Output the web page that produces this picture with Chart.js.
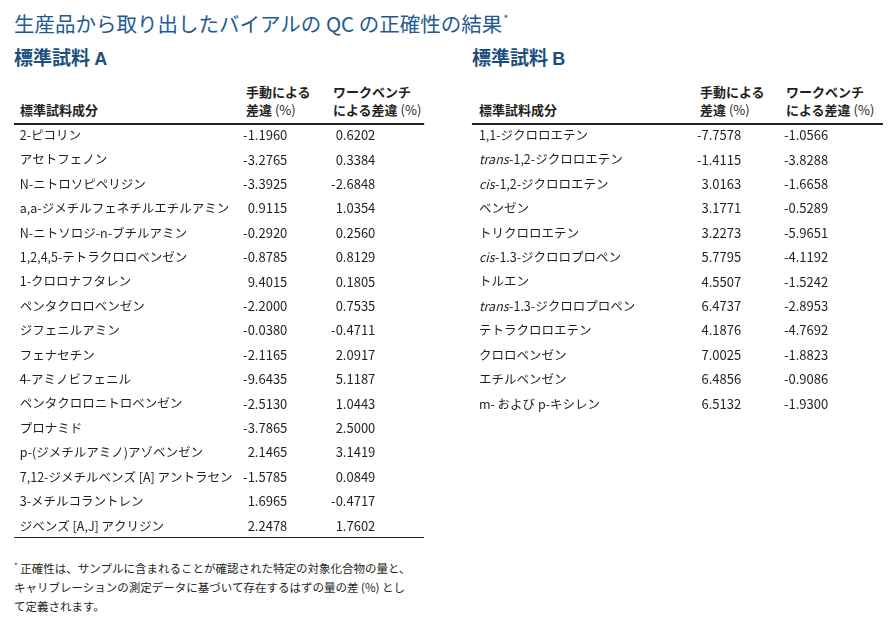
<!DOCTYPE html>
<html lang="ja">
<head>
<meta charset="utf-8">
<script src="https://cdn.jsdelivr.net/npm/chart.js@4.4.0/dist/chart.umd.min.js"></script>
<style>
body { margin: 0; background: #fff; }
#page { position: relative; width: 893px; height: 622px; overflow: hidden;
  font-family: "Liberation Sans Narrow", "Noto Sans CJK JP", sans-serif; color: #231f20; }
.abs { position: absolute; white-space: nowrap; }
.title { left: 14px; top: 4px; font-family: "Noto Sans CJK JP", sans-serif; font-size: 20.5px; line-height: 28px; color: #1f5a93; }
.title sup { font-size: 11px; vertical-align: 9px; margin-left: 1px; }
.heading { top: 44px; font-family: "Noto Sans CJK JP", sans-serif; font-weight: bold; font-size: 19px; line-height: 26px; color: #1a4f80; }
.heading b { font-family: "Liberation Sans", sans-serif; font-size: 18px; }
.head { font-size: 13px; font-weight: bold; line-height: 18px; }
.head span { font-weight: normal; }
.note { left: 14px; top: 556px; font-family: "Noto Sans CJK JP", sans-serif; font-size: 11.5px; line-height: 19px; }
.note sup { font-size: 8px; vertical-align: 4px; }
canvas { position: absolute; }
</style>
</head>
<body>
<div id="page">
  <div class="abs title">生産品から取り出したバイアルの QC の正確性の結果<sup>*</sup></div>

  <div class="abs heading" style="left:14px">標準試料 <b>A</b></div>
  <div class="abs heading" style="left:472px">標準試料 <b>B</b></div>

  <div class="abs head" style="left:20px;top:101px">標準試料成分</div>
  <div class="abs head" style="left:246px;top:83px">手動による<br>差違 <span>(%)</span></div>
  <div class="abs head" style="left:333px;top:83px">ワークベンチ<br>による差違 <span>(%)</span></div>

  <div class="abs head" style="left:479px;top:101px">標準試料成分</div>
  <div class="abs head" style="left:700px;top:83px">手動による<br>差違 <span>(%)</span></div>
  <div class="abs head" style="left:786px;top:83px">ワークベンチ<br>による差違 <span>(%)</span></div>

  <canvas id="table-a" width="440" height="418" style="left:0;top:122px"></canvas>
  <canvas id="table-b" width="435" height="296" style="left:458px;top:122px"></canvas>

  <div class="abs note"><sup>*</sup> 正確性は、サンプルに含まれることが確認された特定の対象化合物の量と、<br>キャリブレーションの測定データに基づいて存在するはずの量の差 (%) とし<br>て定義されます。</div>
</div>

<script>
// DATEN
const componentsA = [
    '2-ピコリン', 'アセトフェノン', 'N-ニトロソピペリジン', 'a,a-ジメチルフェネチルエチルアミン',
    'N-ニトソロジ-n-ブチルアミン', '1,2,4,5-テトラクロロベンゼン', '1-クロロナフタレン',
    'ペンタクロロベンゼン', 'ジフェニルアミン', 'フェナセチン', '4-アミノビフェニル',
    'ペンタクロロニトロベンゼン', 'プロナミド', 'p-(ジメチルアミノ)アゾベンゼン',
    '7,12-ジメチルベンズ [A] アントラセン', '3-メチルコラントレン', 'ジベンズ [A,J] アクリジン'
];
const manualA = [-1.1960, -3.2765, -3.3925, 0.9115, -0.2920, -0.8785, 9.4015, -2.2000, -0.0380,
    -2.1165, -9.6435, -2.5130, -3.7865, 2.1465, -1.5785, 1.6965, 2.2478];
const workbenchA = [0.6202, 0.3384, -2.6848, 1.0354, 0.2560, 0.8129, 0.1805, 0.7535, -0.4711,
    2.0917, 5.1187, 1.0443, 2.5000, 3.1419, 0.0849, -0.4717, 1.7602];

const componentsB = [
    '1,1-ジクロロエテン', 'trans-1,2-ジクロロエテン', 'cis-1,2-ジクロロエテン', 'ベンゼン',
    'トリクロロエテン', 'cis-1.3-ジクロロプロペン', 'トルエン', 'trans-1.3-ジクロロプロペン',
    'テトラクロロエテン', 'クロロベンゼン', 'エチルベンゼン', 'm- および p-キシレン'
];
const manualB = [-7.7578, -1.4115, 3.0163, 3.1771, 3.2273, 5.7795, 4.5507, 6.4737, 4.1876,
    7.0025, 6.4856, 6.5132];
const workbenchB = [-1.0566, -3.8288, -1.6658, -0.5289, -5.9651, -4.1192, -1.5242, -2.8953,
    -4.7692, -1.8823, -0.9086, -1.9300];

const textColor = '#231f20';
const labelFont = '12.5px "Liberation Sans Narrow", "Noto Sans CJK JP", sans-serif';
const italicFont = 'italic 12.5px "Liberation Sans Narrow", "Noto Sans CJK JP", sans-serif';
const numberFont = '13px "Liberation Sans Narrow", "Noto Sans CJK JP", sans-serif';

// ZEICHNET DIE TABELLE (Namen, Werte, Linien)
const tableText = {
    id: 'tableText',
    afterDatasetsDraw(chart, args, opts) {
        const ctx = chart.ctx;
        const xs = chart.scales.x;
        const ys = chart.scales.y;
        const area = chart.chartArea;
        ctx.save();
        ctx.strokeStyle = '#231f20';
        // Linie unter dem Kopf
        ctx.lineWidth = 2;
        ctx.beginPath();
        ctx.moveTo(xs.getPixelForValue(opts.ruleFrom), area.top + 1);
        ctx.lineTo(xs.getPixelForValue(opts.ruleTo), area.top + 1);
        ctx.stroke();
        if (opts.bottomRule) {
            ctx.lineWidth = 1;
            ctx.beginPath();
            ctx.moveTo(xs.getPixelForValue(opts.ruleFrom), area.bottom - 0.5);
            ctx.lineTo(xs.getPixelForValue(opts.ruleTo), area.bottom - 0.5);
            ctx.stroke();
        }
        ctx.fillStyle = textColor;
        ctx.textBaseline = 'middle';
        // Namen der Komponenten
        ctx.textAlign = 'left';
        opts.names.forEach(function (name, i) {
            let px = xs.getPixelForValue(opts.labelX);
            const py = ys.getPixelForValue(i);
            const m = name.match(/^(cis|trans)(-.*)$/);
            if (m) {
                ctx.font = italicFont;
                ctx.fillText(m[1], px, py);
                px += ctx.measureText(m[1]).width + 0.5;
                name = m[2];
            }
            ctx.font = labelFont;
            ctx.fillText(name, px, py);
        });
        // Werte
        ctx.font = numberFont;
        ctx.textAlign = 'right';
        chart.data.datasets.forEach(function (ds, d) {
            const meta = chart.getDatasetMeta(d);
            meta.data.forEach(function (el, i) {
                ctx.fillText(ds.values[i].toFixed(4), el.x, el.y);
            });
        });
        ctx.restore();
    }
};

function makeTable(canvasId, names, columns, colX, labelX, ruleTo, bottomRule) {
    new Chart(document.getElementById(canvasId), {
        type: 'scatter',
        data: {
            datasets: columns.map(function (values, c) {
                return {
                    values: values,
                    data: values.map(function (v, i) { return { x: colX[c], y: i }; }),
                    pointRadius: 0,
                    pointHoverRadius: 0
                };
            })
        },
        options: {
            responsive: false,
            animation: false,
            events: [],
            layout: { padding: { top: 1, bottom: 2, left: 0, right: 0 } },
            plugins: {
                legend: { display: false },
                tooltip: { enabled: false },
                tableText: {
                    names: names,
                    labelX: labelX,
                    ruleFrom: 3.2,
                    ruleTo: ruleTo,
                    bottomRule: bottomRule
                }
            },
            scales: {
                x: { type: 'linear', display: false, min: 0, max: 100 },
                y: { type: 'linear', display: false, reverse: true, min: -0.5, max: names.length - 0.5 }
            }
        },
        plugins: [tableText]
    });
}

makeTable('table-a', componentsA, [manualA, workbenchA], [65.3, 85.3], 4.5, 96.4, true);
makeTable('table-b', componentsB, [manualB, workbenchB], [65.1, 85.1], 4.8, 97.7, false);
</script>
</body>
</html>
